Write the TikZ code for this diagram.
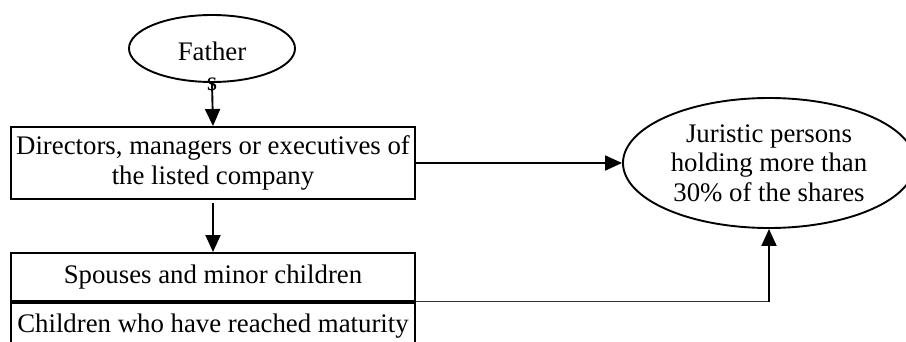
\documentclass[tikz,border=0pt]{standalone}
\usepackage{fontspec}
\setmainfont{Liberation Serif}
\usetikzlibrary{arrows.meta,positioning,shapes.geometric}

\begin{document}
\begin{tikzpicture}[
  x=1pt, y=1pt,
  font=\fontsize{26.8}{29.5}\selectfont,
  oval/.style={draw, ellipse, line width=1.9pt, inner sep=0pt},
  box/.style={draw, rectangle, line width=1.9pt, align=center, minimum width=404pt, inner xsep=0pt, inner ysep=0pt},
  arrow/.style={-{Triangle[length=17pt,width=15pt]}, line width=1.9pt},
  link/.style={line width=1pt, draw=black!80}
]
\useasboundingbox (0,0) rectangle (906,341);

\node[oval, minimum width=166pt, minimum height=67pt] (fa) at (212,292.5) {};
\node[anchor=north, align=center, inner sep=0pt] (fatxt) at (212,299) {Father\\s};

\node[box, minimum height=72pt] (dir) at (213,178) {Directors, managers or executives of\\the listed company};
\node[box, minimum height=48pt, anchor=north] (spouse) at (213,89) {Spouses and minor children};
\node[box, minimum height=46pt, below=0pt of spouse] (mature) {Children who have reached maturity};

\node[oval, minimum width=292pt, minimum height=130pt, align=center] (jur) at (769,178) {Juristic persons\\holding more than\\30\% of the shares};

\draw[arrow] (fa.south) -- (dir.north);
\draw[arrow, shorten <=3pt] (dir.south) -- (spouse.north);
\draw[arrow] (dir.east) -- (jur.west);
\draw[link] (spouse.south east) -- (spouse.south east -| jur.south) coordinate (bend);
\draw[arrow] (bend) -- (jur.south);
\end{tikzpicture}
\end{document}
